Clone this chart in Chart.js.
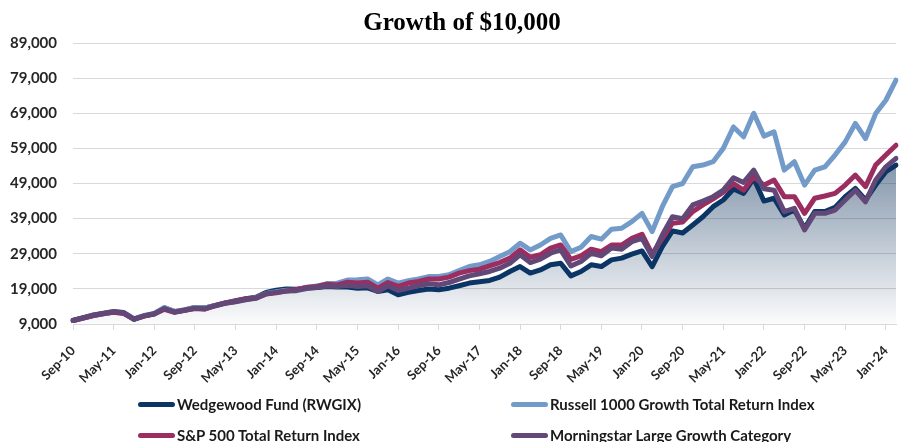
<!DOCTYPE html>
<html>
<head>
<meta charset="utf-8">
<script src="https://cdn.jsdelivr.net/npm/chart.js@4.4.1/dist/chart.umd.min.js"></script>
<style>
  body { margin: 0; background: #fff; }
  #wrap { position: relative; width: 900px; height: 442px; }
  #chart { position: absolute; left: 0; top: 0; }
  #title {
    position: absolute; left: 0; top: 9px; width: 924px; text-align: center;
    font: bold 25px/25px "Liberation Serif", "Times New Roman", serif; color: #000;
  }
  .leg { position: absolute; display: flex; align-items: center; height: 20px;
    font: bold 15px "Lato", sans-serif; color: #1a1a1a; white-space: nowrap; }
  .leg span.sw { display: inline-block; width: 37px; height: 5px; border-radius: 3px; margin-right: 2px; }
</style>
</head>
<body>
<div id="wrap">
  <canvas id="chart" width="900" height="442"></canvas>
  <div id="title">Growth of $10,000</div>
</div>
<script>
// bimonthly points, Sep-10 .. Mar-24
const labels = [
  'Sep-10','Nov-10','Jan-11','Mar-11','May-11','Jul-11','Sep-11','Nov-11',
  'Jan-12','Mar-12','May-12','Jul-12','Sep-12','Nov-12','Jan-13','Mar-13',
  'May-13','Jul-13','Sep-13','Nov-13','Jan-14','Mar-14','May-14','Jul-14',
  'Sep-14','Nov-14','Jan-15','Mar-15','May-15','Jul-15','Sep-15','Nov-15',
  'Jan-16','Mar-16','May-16','Jul-16','Sep-16','Nov-16','Jan-17','Mar-17',
  'May-17','Jul-17','Sep-17','Nov-17','Jan-18','Mar-18','May-18','Jul-18',
  'Sep-18','Nov-18','Jan-19','Mar-19','May-19','Jul-19','Sep-19','Nov-19',
  'Jan-20','Mar-20','May-20','Jul-20','Sep-20','Nov-20','Jan-21','Mar-21',
  'May-21','Jul-21','Sep-21','Nov-21','Jan-22','Mar-22','May-22','Jul-22',
  'Sep-22','Nov-22','Jan-23','Mar-23','May-23','Jul-23','Sep-23','Nov-23',
  'Jan-24','Mar-24'
];

const wedgewood = [
  10000,10700,11400,11900,12400,12100,10300,11300,11900,13600,
  12500,13000,13700,13600,14300,15000,15600,16200,16600,18000,
  18600,19000,18900,19300,19400,19700,19500,19500,19200,19300,
  18250,18750,17300,18000,18550,18950,18750,19200,19900,20650,
  21000,21400,22350,23950,25350,23500,24400,25850,26300,22700,
  23950,25850,25350,27250,27750,28900,29800,25350,31050,35500,
  34900,37200,39550,42400,44300,47450,46200,50450,44000,44800,
  40050,41450,36250,41000,41000,42200,45250,47600,44300,48550,
  52350,54250
];
const russell = [
  10000,10750,11500,12000,12500,12200,10500,11400,12000,13700,
  12600,13100,13700,13600,14300,15000,15400,16000,16500,17700,
  18200,18600,18700,19500,19800,20500,20600,21500,21600,21800,
  20150,21800,20650,21300,21800,22500,22500,23000,24200,25350,
  25850,26800,28200,29600,32000,30100,31500,33400,34350,29600,
  30850,33900,33150,36000,36250,38150,40500,35300,42400,48100,
  49000,53750,54250,55200,59000,65100,62300,69000,62500,63700,
  52800,55200,48550,52800,53750,57100,60850,66100,61800,68900,
  72700,78400
];
const sp500 = [
  10000,10700,11400,12000,12350,11950,10400,11250,11850,13200,
  12300,12900,13400,13300,14200,15000,15500,16100,16400,17500,
  17900,18400,18800,19400,19700,20300,20100,20900,20650,20900,
  19200,20800,19700,20650,21100,21800,21800,22350,23500,24200,
  24600,25550,26500,27750,30100,28000,28700,30600,31500,27400,
  28400,30300,29600,31500,31500,33400,34550,28900,33400,37700,
  38000,41000,42900,44600,46500,49000,47100,50900,48500,50000,
  45250,45250,40500,44800,45450,46200,48550,51400,48100,54250,
  57100,59900
];
const morningstar = [
  10000,10800,11600,12100,12550,12250,10400,11300,11900,13400,
  12400,12900,13500,13300,14200,14900,15300,15900,16300,17600,
  18000,18400,18500,19100,19400,19800,19700,20000,19700,19900,
  18250,19900,18550,19200,19900,20450,20150,20800,21800,22700,
  23300,23950,24900,26300,28700,26500,27450,29150,30100,25500,
  26800,29150,28400,30600,30300,32450,33400,28200,34350,39550,
  39000,42900,44000,45250,47100,50650,49300,52800,47500,47100,
  41000,41950,35800,40500,40500,41450,44300,47100,43800,50000,
  53750,56150
];

const seriesNames = ['Wedgewood Fund (RWGIX)', 'Russell 1000 Growth Total Return Index',
  'S&P 500 Total Return Index', 'Morningstar Large Growth Category'];
const seriesColors = ['#0b3564', '#739bc9', '#9b2d61', '#614877'];
const yTicks = [9000, 19000, 29000, 39000, 49000, 59000, 69000, 79000, 89000];

const fontFam = "'Lato', 'Open Sans', sans-serif";
const fmt = new Intl.NumberFormat('en-US');

function areaFill(context) {
  const { chart } = context;
  const area = chart.chartArea;
  if (!area) return 'rgba(20,55,95,0.3)';
  const g = chart.ctx.createLinearGradient(0, area.top, 0, area.bottom);
  g.addColorStop(0, 'rgba(20,55,95,0.9)');
  g.addColorStop(1, 'rgba(20,55,95,0.02)');
  return g;
}

function makeSet(i, data, order) {
  return {
    label: seriesNames[i], data: data, borderColor: seriesColors[i],
    borderWidth: 5, pointRadius: 0, tension: 0, order: order,
    borderJoinStyle: 'round', borderCapStyle: 'round', fill: false
  };
}

const sets = [
  makeSet(0, wedgewood, 4),
  makeSet(1, russell, 3),
  makeSet(2, sp500, 2),
  makeSet(3, morningstar, 1)
];
sets[0].fill = 'start';
sets[0].backgroundColor = areaFill;

new Chart(document.getElementById('chart'), {
  type: 'line',
  data: { labels: labels, datasets: sets },
  options: {
    responsive: false, animation: false, devicePixelRatio: 1,
    layout: { padding: { top: 43, right: 4, bottom: 54, left: 0 } },
    plugins: {
      legend: { display: false }, title: { display: false }, tooltip: { enabled: false },
      filler: { drawTime: 'beforeDatasetsDraw' }
    },
    scales: {
      x: {
        offset: false,
        afterFit: (s) => { s.height = 64; s.paddingRight = 0; s.paddingLeft = 0; },
        grid: {
          drawOnChartArea: false, drawTicks: true, tickLength: 6,
          color: (ctx) => (ctx.index % 4 === 0 ? '#d9d9d9' : 'rgba(0,0,0,0)')
        },
        border: { display: true, color: '#d9d9d9' },
        ticks: {
          autoSkip: false, maxRotation: 45, minRotation: 45, padding: 13,
          color: '#262626', font: { family: fontFam, size: 13, weight: 'bold' },
          callback: (v, i) => (i % 4 === 0 ? labels[i] : '')
        }
      },
      y: {
        min: yTicks[0], max: yTicks[yTicks.length - 1],
        afterFit: (s) => { s.width = 73; },
        afterBuildTicks: (s) => { s.ticks = yTicks.map(v => ({ value: v })); },
        grid: { color: '#d9d9d9', lineWidth: 1, drawTicks: false },
        border: { display: false },
        ticks: {
          padding: 16, color: '#262626',
          font: { family: fontFam, size: 15, weight: 'bold' },
          callback: (v) => fmt.format(v)
        }
      }
    }
  }
});

// legend, two columns like the original
const legPos = [[138, 394], [511, 394], [138, 425], [511, 425]];
const wrap = document.getElementById('wrap');
seriesNames.forEach((name, i) => {
  const d = document.createElement('div');
  d.className = 'leg';
  d.style.left = legPos[i][0] + 'px';
  d.style.top = legPos[i][1] + 'px';
  d.innerHTML = '<span class="sw" style="background:' + seriesColors[i] + '"></span>';
  d.appendChild(document.createTextNode(name));
  wrap.appendChild(d);
});
</script>
</body>
</html>
